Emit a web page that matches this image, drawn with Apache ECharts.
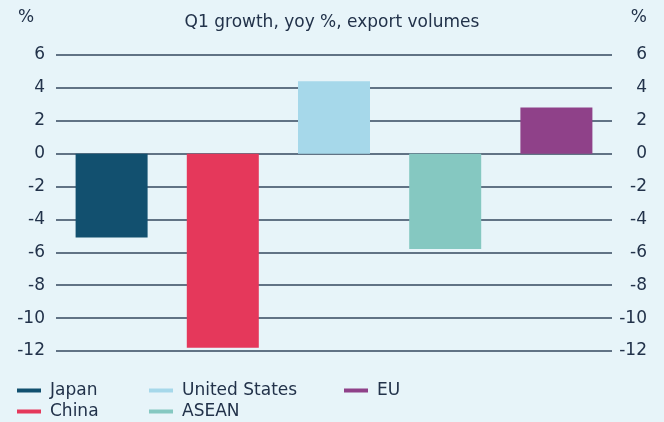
<!DOCTYPE html>
<html>
<head>
<meta charset="utf-8">
<script src="https://cdn.jsdelivr.net/npm/echarts@6/dist/echarts.min.js"></script>
<style>
  html, body { margin: 0; padding: 0; background: #e7f4f9; }
  #chart { width: 664px; height: 422px; }
</style>
</head>
<body>
<div id="chart"></div>
<script>
// Q1 growth, yoy %, export volumes
const countries = ['Japan', 'China', 'United States', 'ASEAN', 'EU'];
const growth = [-5.1, -11.8, 4.4, -5.8, 2.8];
const colors = ['#12506f', '#e5385b', '#a6d8ea', '#85c8c1', '#8f4189'];

const textColor = '#22324a';
const font = 'DejaVu Sans';

const chart = echarts.init(document.getElementById('chart'));

// one series per country so each gets a legend entry
const series = countries.map((name, i) => ({
  name: name,
  type: 'bar',
  stack: 'all',
  barWidth: 72,
  itemStyle: { color: colors[i] },
  data: countries.map((c, j) => (j === i ? growth[i] : null))
}));

const yAxisBase = {
  type: 'value',
  min: -12,
  max: 6,
  interval: 2,
  axisLine: { show: false },
  axisTick: { show: false },
  splitLine: { lineStyle: { color: '#34485e', width: 1.5 } }
};

const legendBase = {
  orient: 'vertical',
  top: 382,
  height: 46,
  itemWidth: 24,
  itemHeight: 4,
  itemGap: 4,
  icon: 'rect',
  padding: 0,
  textStyle: { color: textColor, fontFamily: font, fontSize: 17, padding: [0, 0, 0, 4] }
};

const titleStyle = { color: textColor, fontFamily: font, fontSize: 17, fontWeight: 'normal' };

chart.setOption({
  animation: false,
  backgroundColor: '#e7f4f9',
  title: [
    { text: 'Q1 growth, yoy %, export volumes', left: 'center', top: 9, textStyle: titleStyle },
    { text: '%', left: 13, top: 4, textStyle: titleStyle },
    { text: '%', right: 12, top: 4, textStyle: titleStyle }
  ],
  legend: [
    Object.assign({}, legendBase, { left: 17, data: ['Japan', 'China'] }),
    Object.assign({}, legendBase, { left: 149, data: ['United States', 'ASEAN'] }),
    Object.assign({}, legendBase, { left: 344, data: ['EU'] })
  ],
  grid: {
    left: 56,
    right: 52,
    top: 55,
    bottom: 71
  },
  xAxis: {
    type: 'category',
    data: countries,
    axisLine: { show: false },
    axisTick: { show: false },
    axisLabel: { show: false }
  },
  yAxis: [
    Object.assign({}, yAxisBase, {
      position: 'left',
      axisLabel: { color: textColor, fontFamily: font, fontSize: 17, margin: 11 }
    }),
    Object.assign({}, yAxisBase, {
      position: 'right',
      splitLine: { show: false },
      axisLabel: { color: textColor, fontFamily: font, fontSize: 17, margin: 35, align: 'right' }
    })
  ],
  series: series
});
</script>
</body>
</html>
